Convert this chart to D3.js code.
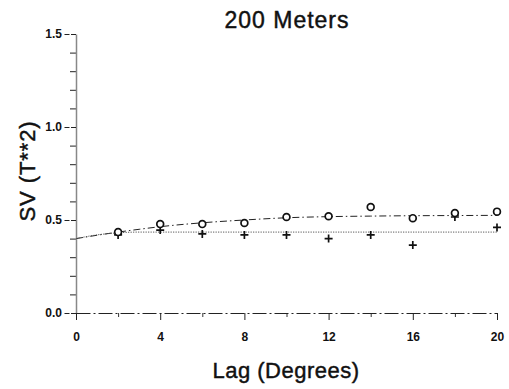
<!DOCTYPE html>
<html>
<head>
<meta charset="utf-8">
<script src="https://cdn.jsdelivr.net/npm/d3@7"></script>
<style>
  body { margin: 0; background: #fff; }
  text { font-family: "Liberation Sans", Arial, sans-serif; fill: #111; }
  .title { stroke: #111; stroke-width: 0.45; }
  .tick text { font-family: "Liberation Sans", Arial, sans-serif; font-size: 12px; font-weight: bold; fill: #111; }
</style>
</head>
<body>
<div id="chart"></div>
<script>
// lags (degrees) where the semivariance was computed
var lags = [2, 4, 6, 8, 10, 12, 14, 16, 18, 20];
// circles and pluses
var svCircle = [0.435, 0.478, 0.478, 0.484, 0.516, 0.52, 0.57, 0.51, 0.537, 0.545];
var svPlus = [0.42, 0.446, 0.425, 0.42, 0.42, 0.40, 0.42, 0.365, 0.516, 0.46];

// fitted model lines, read at a few lags
var modelLags = [0, 1, 2, 3, 4, 6, 8, 10, 12, 14, 16, 18, 20];
var modelCircle = [0.40, 0.418, 0.435, 0.45, 0.464, 0.485, 0.50, 0.512, 0.518, 0.521, 0.523, 0.524, 0.525];
var modelPlus = [0.40, 0.42, 0.431, 0.435, 0.435, 0.435, 0.435, 0.435, 0.435, 0.435, 0.435, 0.435, 0.435];

var xMajorTicks = [0, 4, 8, 12, 16, 20];
var xMinorTicks = [2, 6, 10, 14, 18];
var yMajorTicks = [0, 0.5, 1.0, 1.5];
var yMinorTicks = [0.1, 0.2, 0.3, 0.4, 0.6, 0.7, 0.8, 0.9, 1.1, 1.2, 1.3, 1.4];

var width = 509, height = 389;

var svg = d3.select('#chart')
  .append('svg')
  .attr('width', width)
  .attr('height', height);

var x = d3.scaleLinear().domain([0, 20]).range([76, 497]);
var y = d3.scaleLinear().domain([0, 1.5]).range([313, 34]);

// y axis: minor then major
var yMinor = svg.append('g')
  .attr('transform', 'translate(' + x(0) + ',0)')
  .call(d3.axisLeft(y).tickValues(yMinorTicks).tickSize(6).tickFormat(''));
yMinor.select('.domain').remove();
yMinor.selectAll('.tick line').attr('stroke', '#222');

var yAxis = svg.append('g')
  .attr('transform', 'translate(' + x(0) + ',0)')
  .call(d3.axisLeft(y).tickValues(yMajorTicks).tickSize(12).tickSizeOuter(0).tickPadding(2)
    .tickFormat(d3.format('.1f')));
yAxis.select('.domain').attr('stroke', '#888').attr('stroke-width', 1.5);
yAxis.selectAll('.tick line').attr('stroke', '#222').attr('stroke-dasharray', '5,1.5');

// x axis at y = 0, drawn broken like the original
var xMinor = svg.append('g')
  .attr('transform', 'translate(0,' + y(0) + ')')
  .call(d3.axisBottom(x).tickValues(xMinorTicks).tickSize(4).tickFormat(''));
xMinor.select('.domain').remove();
xMinor.selectAll('.tick line').attr('stroke', '#333');

var xAxis = svg.append('g')
  .attr('transform', 'translate(0,' + y(0) + ')')
  .call(d3.axisBottom(x).tickValues(xMajorTicks).tickSize(7).tickSizeOuter(0).tickPadding(12)
    .tickFormat(d3.format('d')));
xAxis.select('.domain').attr('stroke', '#222').attr('stroke-dasharray', '14,3,2,3');
xAxis.selectAll('.tick line').attr('stroke', '#222');

// model lines
var line = d3.line()
  .x(function(d) { return x(d[0]); })
  .y(function(d) { return y(d[1]); })
  .curve(d3.curveMonotoneX);

svg.append('path')
  .datum(modelLags.map(function(d, i) { return [d, modelCircle[i]]; }))
  .attr('fill', 'none')
  .attr('stroke', '#222')
  .attr('stroke-width', 1)
  .attr('stroke-dasharray', '7,3,1.5,3')
  .attr('d', line);

svg.append('path')
  .datum(modelLags.map(function(d, i) { return [d, modelPlus[i]]; }))
  .attr('fill', 'none')
  .attr('stroke', '#555')
  .attr('stroke-width', 1)
  .attr('stroke-dasharray', '1.2,1.3')
  .attr('d', line);

// plus markers
svg.selectAll('.plus')
  .data(lags)
  .enter().append('path')
  .attr('class', 'plus')
  .attr('d', function(d, i) {
    var cx = x(d), cy = y(svPlus[i]);
    return 'M' + (cx - 4) + ',' + cy + 'H' + (cx + 4) + 'M' + cx + ',' + (cy - 4) + 'V' + (cy + 4);
  })
  .attr('stroke', '#111')
  .attr('stroke-width', 1.7);

// circle markers
svg.selectAll('.circ')
  .data(lags)
  .enter().append('circle')
  .attr('class', 'circ')
  .attr('cx', function(d) { return x(d); })
  .attr('cy', function(d, i) { return y(svCircle[i]); })
  .attr('r', 3.4)
  .attr('fill', '#fff')
  .attr('stroke', '#111')
  .attr('stroke-width', 1.7);

// titles
svg.append('text')
  .attr('class', 'title')
  .attr('x', 287)
  .attr('y', 28)
  .attr('text-anchor', 'middle')
  .attr('font-size', 23)
  .attr('letter-spacing', 1)
  .text('200 Meters');

svg.append('text')
  .attr('class', 'title')
  .attr('x', 286)
  .attr('y', 378)
  .attr('text-anchor', 'middle')
  .attr('font-size', 22)
  .attr('letter-spacing', 0.5)
  .text('Lag (Degrees)');

svg.append('text')
  .attr('class', 'title')
  .attr('transform', 'translate(35,171) rotate(-90)')
  .attr('text-anchor', 'middle')
  .attr('font-size', 22)
  .attr('letter-spacing', 0.9)
  .text('SV (T**2)');
</script>
</body>
</html>
